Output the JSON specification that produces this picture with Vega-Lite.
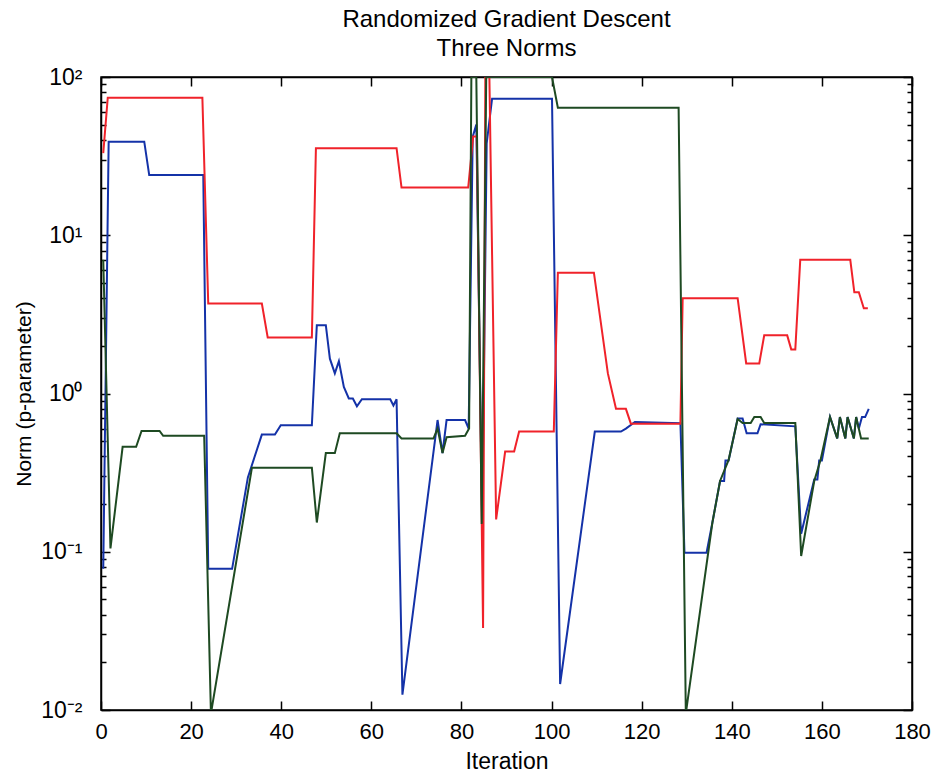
{
  "$schema": "https://vega.github.io/schema/vega-lite/v6.json",
  "width": 811,
  "height": 633,
  "autosize": {"type": "none"},
  "padding": {"left": 101, "top": 77, "right": 27, "bottom": 68},
  "background": "white",
  "title": {
    "text": ["Randomized Gradient Descent", "Three Norms"],
    "font": "Liberation Sans",
    "fontSize": 24,
    "fontWeight": "normal",
    "color": "black",
    "anchor": "middle",
    "lineHeight": 29,
    "offset": 5
  },
  "config": {
    "view": {"stroke": "black", "strokeWidth": 1.5},
    "axis": {
      "domainColor": "black",
      "domainWidth": 1.5,
      "tickColor": "black",
      "tickWidth": 1.5,
      "labelFont": "Liberation Sans",
      "labelColor": "black",
      "titleFont": "Liberation Sans",
      "titleColor": "black",
      "titleFontWeight": "normal",
      "grid": false,
      "labelOverlap": false,
      "labelFlush": false
    }
  },
  "data": {
    "values": [
      {"series": "blue", "iteration": 0.5, "norm": 0.078},
      {"series": "blue", "iteration": 1.7, "norm": 39},
      {"series": "blue", "iteration": 9.6, "norm": 39},
      {"series": "blue", "iteration": 10.7, "norm": 24},
      {"series": "blue", "iteration": 22.7, "norm": 24},
      {"series": "blue", "iteration": 23.8, "norm": 0.078},
      {"series": "blue", "iteration": 29.1, "norm": 0.078},
      {"series": "blue", "iteration": 32.6, "norm": 0.295},
      {"series": "blue", "iteration": 35.7, "norm": 0.55},
      {"series": "blue", "iteration": 38.6, "norm": 0.55},
      {"series": "blue", "iteration": 39.9, "norm": 0.63},
      {"series": "blue", "iteration": 46.8, "norm": 0.63},
      {"series": "blue", "iteration": 47.9, "norm": 2.7},
      {"series": "blue", "iteration": 49.9, "norm": 2.7},
      {"series": "blue", "iteration": 50.8, "norm": 1.66},
      {"series": "blue", "iteration": 51.9, "norm": 1.34},
      {"series": "blue", "iteration": 52.8, "norm": 1.6},
      {"series": "blue", "iteration": 53.9, "norm": 1.1},
      {"series": "blue", "iteration": 55.0, "norm": 0.93},
      {"series": "blue", "iteration": 55.9, "norm": 0.93},
      {"series": "blue", "iteration": 56.8, "norm": 0.83},
      {"series": "blue", "iteration": 57.9, "norm": 0.92},
      {"series": "blue", "iteration": 64.2, "norm": 0.92},
      {"series": "blue", "iteration": 64.9, "norm": 0.84},
      {"series": "blue", "iteration": 65.6, "norm": 0.92},
      {"series": "blue", "iteration": 66.9, "norm": 0.0125},
      {"series": "blue", "iteration": 74.7, "norm": 0.68},
      {"series": "blue", "iteration": 75.8, "norm": 0.42},
      {"series": "blue", "iteration": 76.7, "norm": 0.68},
      {"series": "blue", "iteration": 80.8, "norm": 0.68},
      {"series": "blue", "iteration": 81.6, "norm": 0.6},
      {"series": "blue", "iteration": 82.5, "norm": 42},
      {"series": "blue", "iteration": 83.3, "norm": 50},
      {"series": "blue", "iteration": 84.6, "norm": 0.15},
      {"series": "blue", "iteration": 85.6, "norm": 38},
      {"series": "blue", "iteration": 86.8, "norm": 73},
      {"series": "blue", "iteration": 100.1, "norm": 73},
      {"series": "blue", "iteration": 101.9, "norm": 0.0146},
      {"series": "blue", "iteration": 109.6, "norm": 0.575},
      {"series": "blue", "iteration": 115.4, "norm": 0.575},
      {"series": "blue", "iteration": 116.5, "norm": 0.6},
      {"series": "blue", "iteration": 118.5, "norm": 0.66},
      {"series": "blue", "iteration": 128.6, "norm": 0.65},
      {"series": "blue", "iteration": 129.5, "norm": 0.0985},
      {"series": "blue", "iteration": 134.4, "norm": 0.0985},
      {"series": "blue", "iteration": 135.7, "norm": 0.153},
      {"series": "blue", "iteration": 137.4, "norm": 0.28},
      {"series": "blue", "iteration": 138.3, "norm": 0.28},
      {"series": "blue", "iteration": 138.6, "norm": 0.377},
      {"series": "blue", "iteration": 139.3, "norm": 0.377},
      {"series": "blue", "iteration": 141.3, "norm": 0.695},
      {"series": "blue", "iteration": 142.4, "norm": 0.695},
      {"series": "blue", "iteration": 143.3, "norm": 0.56},
      {"series": "blue", "iteration": 145.7, "norm": 0.56},
      {"series": "blue", "iteration": 146.4, "norm": 0.64},
      {"series": "blue", "iteration": 154.1, "norm": 0.62},
      {"series": "blue", "iteration": 155.4, "norm": 0.13},
      {"series": "blue", "iteration": 158.3, "norm": 0.286},
      {"series": "blue", "iteration": 159.0, "norm": 0.286},
      {"series": "blue", "iteration": 159.4, "norm": 0.377},
      {"series": "blue", "iteration": 160.0, "norm": 0.377},
      {"series": "blue", "iteration": 161.8, "norm": 0.71},
      {"series": "blue", "iteration": 163.4, "norm": 0.52},
      {"series": "blue", "iteration": 164.0, "norm": 0.71},
      {"series": "blue", "iteration": 165.2, "norm": 0.52},
      {"series": "blue", "iteration": 165.7, "norm": 0.71},
      {"series": "blue", "iteration": 167.1, "norm": 0.52},
      {"series": "blue", "iteration": 167.6, "norm": 0.71},
      {"series": "blue", "iteration": 168.2, "norm": 0.6},
      {"series": "blue", "iteration": 168.9, "norm": 0.71},
      {"series": "blue", "iteration": 169.6, "norm": 0.71},
      {"series": "blue", "iteration": 170.4, "norm": 0.8},

      {"series": "red", "iteration": 0.5, "norm": 33},
      {"series": "red", "iteration": 1.5, "norm": 74},
      {"series": "red", "iteration": 22.5, "norm": 74},
      {"series": "red", "iteration": 23.8, "norm": 3.7},
      {"series": "red", "iteration": 35.7, "norm": 3.7},
      {"series": "red", "iteration": 37.0, "norm": 2.26},
      {"series": "red", "iteration": 46.8, "norm": 2.26},
      {"series": "red", "iteration": 47.7, "norm": 35.5},
      {"series": "red", "iteration": 65.6, "norm": 35.5},
      {"series": "red", "iteration": 66.7, "norm": 20},
      {"series": "red", "iteration": 81.5, "norm": 20},
      {"series": "red", "iteration": 82.6, "norm": 42},
      {"series": "red", "iteration": 83.4, "norm": 42},
      {"series": "red", "iteration": 84.8, "norm": 0.033},
      {"series": "red", "iteration": 85.3, "norm": 100},
      {"series": "red", "iteration": 86.2, "norm": 100},
      {"series": "red", "iteration": 87.7, "norm": 0.16},
      {"series": "red", "iteration": 89.7, "norm": 0.43},
      {"series": "red", "iteration": 91.7, "norm": 0.43},
      {"series": "red", "iteration": 92.8, "norm": 0.575},
      {"series": "red", "iteration": 100.5, "norm": 0.575},
      {"series": "red", "iteration": 101.4, "norm": 5.8},
      {"series": "red", "iteration": 109.4, "norm": 5.8},
      {"series": "red", "iteration": 112.5, "norm": 1.34},
      {"series": "red", "iteration": 114.3, "norm": 0.8},
      {"series": "red", "iteration": 116.5, "norm": 0.8},
      {"series": "red", "iteration": 117.6, "norm": 0.645},
      {"series": "red", "iteration": 128.6, "norm": 0.645},
      {"series": "red", "iteration": 129.1, "norm": 4.0},
      {"series": "red", "iteration": 141.3, "norm": 4.0},
      {"series": "red", "iteration": 143.2, "norm": 1.55},
      {"series": "red", "iteration": 146.1, "norm": 1.55},
      {"series": "red", "iteration": 147.2, "norm": 2.33},
      {"series": "red", "iteration": 152.3, "norm": 2.33},
      {"series": "red", "iteration": 153.2, "norm": 1.9},
      {"series": "red", "iteration": 154.1, "norm": 1.9},
      {"series": "red", "iteration": 155.2, "norm": 7.0},
      {"series": "red", "iteration": 166.3, "norm": 7.0},
      {"series": "red", "iteration": 167.2, "norm": 4.36},
      {"series": "red", "iteration": 168.2, "norm": 4.36},
      {"series": "red", "iteration": 169.3, "norm": 3.46},
      {"series": "red", "iteration": 170.2, "norm": 3.46},

      {"series": "green", "iteration": 0.5, "norm": 7},
      {"series": "green", "iteration": 2.1, "norm": 0.105},
      {"series": "green", "iteration": 4.8, "norm": 0.46},
      {"series": "green", "iteration": 7.8, "norm": 0.46},
      {"series": "green", "iteration": 9.0, "norm": 0.58},
      {"series": "green", "iteration": 13.0, "norm": 0.58},
      {"series": "green", "iteration": 13.8, "norm": 0.54},
      {"series": "green", "iteration": 22.9, "norm": 0.54},
      {"series": "green", "iteration": 24.4, "norm": 0.0095},
      {"series": "green", "iteration": 33.5, "norm": 0.34},
      {"series": "green", "iteration": 46.8, "norm": 0.34},
      {"series": "green", "iteration": 47.9, "norm": 0.153},
      {"series": "green", "iteration": 49.9, "norm": 0.42},
      {"series": "green", "iteration": 51.9, "norm": 0.42},
      {"series": "green", "iteration": 53.0, "norm": 0.56},
      {"series": "green", "iteration": 65.6, "norm": 0.56},
      {"series": "green", "iteration": 66.7, "norm": 0.52},
      {"series": "green", "iteration": 73.8, "norm": 0.52},
      {"series": "green", "iteration": 74.7, "norm": 0.6},
      {"series": "green", "iteration": 75.8, "norm": 0.42},
      {"series": "green", "iteration": 76.7, "norm": 0.53},
      {"series": "green", "iteration": 80.8, "norm": 0.54},
      {"series": "green", "iteration": 81.7, "norm": 0.6},
      {"series": "green", "iteration": 82.2, "norm": 100},
      {"series": "green", "iteration": 83.3, "norm": 100},
      {"series": "green", "iteration": 84.5, "norm": 0.15},
      {"series": "green", "iteration": 85.5, "norm": 100},
      {"series": "green", "iteration": 100.1, "norm": 100},
      {"series": "green", "iteration": 101.4, "norm": 64},
      {"series": "green", "iteration": 128.2, "norm": 64},
      {"series": "green", "iteration": 129.8, "norm": 0.0095},
      {"series": "green", "iteration": 135.7, "norm": 0.153},
      {"series": "green", "iteration": 137.4, "norm": 0.28},
      {"series": "green", "iteration": 139.3, "norm": 0.38},
      {"series": "green", "iteration": 141.3, "norm": 0.69},
      {"series": "green", "iteration": 142.4, "norm": 0.65},
      {"series": "green", "iteration": 144.2, "norm": 0.65},
      {"series": "green", "iteration": 145.0, "norm": 0.71},
      {"series": "green", "iteration": 146.4, "norm": 0.71},
      {"series": "green", "iteration": 147.2, "norm": 0.65},
      {"series": "green", "iteration": 154.1, "norm": 0.65},
      {"series": "green", "iteration": 155.4, "norm": 0.094},
      {"series": "green", "iteration": 158.3, "norm": 0.28},
      {"series": "green", "iteration": 159.7, "norm": 0.38},
      {"series": "green", "iteration": 161.8, "norm": 0.71},
      {"series": "green", "iteration": 163.4, "norm": 0.52},
      {"series": "green", "iteration": 164.0, "norm": 0.71},
      {"series": "green", "iteration": 165.2, "norm": 0.52},
      {"series": "green", "iteration": 165.7, "norm": 0.71},
      {"series": "green", "iteration": 167.1, "norm": 0.52},
      {"series": "green", "iteration": 167.6, "norm": 0.71},
      {"series": "green", "iteration": 168.7, "norm": 0.52},
      {"series": "green", "iteration": 170.4, "norm": 0.52}
    ]
  },
  "layer": [
    {
      "mark": {"type": "line", "clip": true, "strokeWidth": 2},
      "encoding": {
        "x": {
          "field": "iteration",
          "type": "quantitative",
          "scale": {"domain": [0, 180], "nice": false, "zero": false},
          "axis": {
            "orient": "bottom",
            "title": "Iteration",
            "titleFontSize": 23,
            "titlePadding": 8,
            "values": [0, 20, 40, 60, 80, 100, 120, 140, 160, 180],
            "tickSize": -9,
            "labelFontSize": 22,
            "labelPadding": 20
          }
        },
        "y": {
          "field": "norm",
          "type": "quantitative",
          "scale": {"type": "log", "domain": [0.01, 100], "nice": false},
          "axis": {
            "orient": "left",
            "title": "Norm (p-parameter)",
            "titleFontSize": 21,
            "titlePadding": 6,
            "values": [0.01, 0.02, 0.03, 0.04, 0.05, 0.06, 0.07, 0.08, 0.09, 0.1, 0.2, 0.3, 0.4, 0.5, 0.6, 0.7, 0.8, 0.9, 1, 2, 3, 4, 5, 6, 7, 8, 9, 10, 20, 30, 40, 50, 60, 70, 80, 90, 100],
            "tickSize": {"condition": {"test": "datum.value==0.01||datum.value==0.1||datum.value==1||datum.value==10||datum.value==100", "value": -9}, "value": -5},
            "labelExpr": "datum.value==100?'10²':datum.value==10?'10¹':datum.value==1?'10⁰':datum.value==0.1?'10⁻¹':datum.value==0.01?'10⁻²':''",
            "labelFontSize": 23,
            "labelPadding": 28
          }
        },
        "color": {
          "field": "series",
          "type": "nominal",
          "scale": {"domain": ["blue", "red", "green"], "range": ["#1432a8", "#f0222a", "#1e4a22"]},
          "legend": null
        }
      }
    },
    {
      "mark": {"type": "line", "clip": true, "opacity": 0},
      "encoding": {
        "x": {
          "field": "iteration",
          "type": "quantitative",
          "scale": {"domain": [0, 180], "nice": false, "zero": false},
          "axis": {
            "orient": "top",
            "title": null,
            "labels": false,
            "values": [0, 20, 40, 60, 80, 100, 120, 140, 160, 180],
            "tickSize": -9
          }
        },
        "y": {
          "field": "norm",
          "type": "quantitative",
          "scale": {"type": "log", "domain": [0.01, 100], "nice": false},
          "axis": {
            "orient": "right",
            "title": null,
            "labels": false,
            "values": [0.01, 0.02, 0.03, 0.04, 0.05, 0.06, 0.07, 0.08, 0.09, 0.1, 0.2, 0.3, 0.4, 0.5, 0.6, 0.7, 0.8, 0.9, 1, 2, 3, 4, 5, 6, 7, 8, 9, 10, 20, 30, 40, 50, 60, 70, 80, 90, 100],
            "tickSize": {"condition": {"test": "datum.value==0.01||datum.value==0.1||datum.value==1||datum.value==10||datum.value==100", "value": -9}, "value": -5}
          }
        },
        "detail": {"field": "series", "type": "nominal"}
      }
    }
  ],
  "resolve": {"axis": {"x": "independent", "y": "independent"}}
}
